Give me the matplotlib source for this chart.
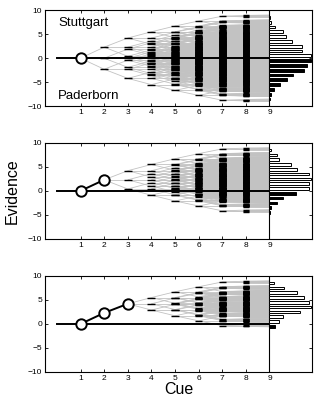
import numpy as np
import matplotlib
matplotlib.use('Agg')
import matplotlib.pyplot as plt
from matplotlib.collections import LineCollection

plt.rcParams['font.family'] = ['Liberation Sans', 'DejaVu Sans']

# evidence added by each cue (from cue k to cue k+1)
cue_weights = [2.3, 1.9, 1.3, 1.2, 1.05, 1.0, 0.15, 0.1]
cue_ticks = [1, 2, 3, 4, 5, 6, 7, 8, 9]
ev_ticks = [-10, -5, 0, 5, 10]
# how many cues are already known in each panel (all point to Stuttgart)
n_known = [1, 2, 3]

# distribution of final evidence, bins of width 1 from -8.5 to 8.5
bin_centres = np.arange(-8.5, 9, 1.0)
hist_top = [0.04, 0.08, 0.17, 0.45, 0.76, 0.99, 1.44, 1.58, 1.77,
            1.76, 1.38, 1.38, 0.96, 0.70, 0.56, 0.22, 0.08, 0.04]
hist_mid = [0, 0, 0, 0, 0.04, 0.08, 0.32, 0.58, 1.14,
            1.66, 1.66, 1.76, 1.66, 1.15, 0.89, 0.42, 0.30, 0.07]
hist_bot = [0, 0, 0, 0, 0, 0, 0, 0, 0.25,
            0.42, 0.58, 1.31, 1.76, 1.69, 1.44, 1.17, 0.62, 0.21]
hists = [hist_top, hist_mid, hist_bot]


def draw_tree(ax, first_cue, first_val):
    nodes = {round(first_val, 3)}
    segs = []
    marks = []
    for k in range(first_cue, 9):
        w = cue_weights[k - 1]
        new = set()
        for v in nodes:
            for d in (w, 0.0, -w):
                u = round(v + d, 3)
                segs.append([(k, v), (k + 1, u)])
                new.add(u)
        nodes = new
        if k + 1 <= 8:
            hw = 0.17 if k + 1 <= 5 else 0.14
            for u in nodes:
                marks.append([(k + 1 - hw, u), (k + 1 + hw, u)])
    ax.add_collection(LineCollection(segs, colors='0.76', linewidths=0.6, zorder=1))
    ax.add_collection(LineCollection(marks, colors='k', linewidths=1.0,
                                     capstyle='butt', zorder=2))


fig = plt.figure(figsize=(3.22, 4.07), dpi=100)
bottoms = [0.739, 0.413, 0.086]

for i in range(3):
    ax = fig.add_axes([0.14, bottoms[i], 0.829, 0.236])
    known = n_known[i]
    xs = cue_ticks[:known]
    ys = [0.0] + list(np.cumsum(cue_weights[:known - 1]))

    draw_tree(ax, known, ys[-1])

    ax.plot([0, 9], [0, 0], color='k', lw=1.4, zorder=3)
    ax.axvline(9, color='k', lw=0.8, zorder=3)
    ax.plot(xs, ys, '-o', color='k', lw=1.4, ms=7.5, mfc='white', mec='k',
            mew=1.4, zorder=4)

    h = np.array(hists[i])
    neg = (bin_centres < 0) & (h > 0)
    pos = (bin_centres > 0) & (h > 0)
    ax.barh(bin_centres[pos], h[pos], height=0.55, left=9, color='white',
            edgecolor='k', linewidth=0.7, zorder=3)
    ax.barh(bin_centres[neg], h[neg], height=0.55, left=9, color='k',
            edgecolor='k', linewidth=0.7, zorder=3)

    ax.set_xlim(-0.5, 10.8)
    ax.set_ylim(-10, 10)
    ax.set_xticks(cue_ticks)
    ax.set_yticks(ev_ticks)
    ax.tick_params(direction='in', top=True, right=True, length=2.5,
                   width=0.6, labelsize=6, pad=2)
    for sp in ax.spines.values():
        sp.set_linewidth(0.8)

    if i == 0:
        ax.text(0.05, 7.4, 'Stuttgart', fontsize=9.5, va='center', ha='left')
        ax.text(0.05, -7.8, 'Paderborn', fontsize=9.5, va='center', ha='left')
    if i == 1:
        ax.set_ylabel('Evidence', fontsize=11.5, labelpad=6)
    if i == 2:
        ax.set_xlabel('Cue', fontsize=11.5, labelpad=0)

fig.savefig('out.png', dpi=100)
